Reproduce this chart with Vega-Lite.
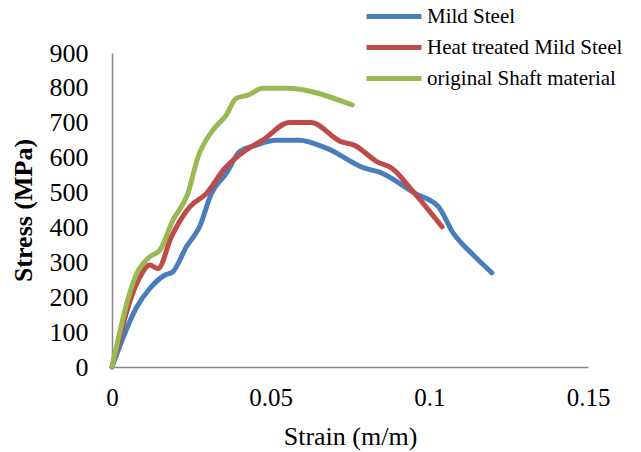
{
  "$schema": "https://vega.github.io/schema/vega-lite/v6.json",
  "width": 476,
  "height": 314,
  "autosize": "none",
  "padding": {"left": 112, "top": 53, "right": 53, "bottom": 85},
  "background": "white",
  "config": {
    "view": {"stroke": null},
    "font": "Liberation Serif"
  },
  "data": {
    "values": [
      {"series": "Mild Steel", "strain": 0, "stress": 0},
      {"series": "Mild Steel", "strain": 0.0078, "stress": 172},
      {"series": "Mild Steel", "strain": 0.0119, "stress": 225},
      {"series": "Mild Steel", "strain": 0.0166, "stress": 263},
      {"series": "Mild Steel", "strain": 0.0192, "stress": 273},
      {"series": "Mild Steel", "strain": 0.0234, "stress": 344},
      {"series": "Mild Steel", "strain": 0.0276, "stress": 402},
      {"series": "Mild Steel", "strain": 0.0313, "stress": 497},
      {"series": "Mild Steel", "strain": 0.036, "stress": 555},
      {"series": "Mild Steel", "strain": 0.0402, "stress": 617},
      {"series": "Mild Steel", "strain": 0.0454, "stress": 636},
      {"series": "Mild Steel", "strain": 0.0517, "stress": 650},
      {"series": "Mild Steel", "strain": 0.059, "stress": 650},
      {"series": "Mild Steel", "strain": 0.0674, "stress": 628},
      {"series": "Mild Steel", "strain": 0.0799, "stress": 569},
      {"series": "Mild Steel", "strain": 0.0841, "stress": 559},
      {"series": "Mild Steel", "strain": 0.0956, "stress": 497},
      {"series": "Mild Steel", "strain": 0.1029, "stress": 459},
      {"series": "Mild Steel", "strain": 0.1076, "stress": 383},
      {"series": "Mild Steel", "strain": 0.1134, "stress": 325},
      {"series": "Mild Steel", "strain": 0.1197, "stress": 270},
      {"series": "Heat treated Mild Steel", "strain": 0, "stress": 0},
      {"series": "Heat treated Mild Steel", "strain": 0.0088, "stress": 258},
      {"series": "Heat treated Mild Steel", "strain": 0.0119, "stress": 292},
      {"series": "Heat treated Mild Steel", "strain": 0.0145, "stress": 282},
      {"series": "Heat treated Mild Steel", "strain": 0.0187, "stress": 373},
      {"series": "Heat treated Mild Steel", "strain": 0.0245, "stress": 459},
      {"series": "Heat treated Mild Steel", "strain": 0.0297, "stress": 497},
      {"series": "Heat treated Mild Steel", "strain": 0.0355, "stress": 569},
      {"series": "Heat treated Mild Steel", "strain": 0.0423, "stress": 622},
      {"series": "Heat treated Mild Steel", "strain": 0.0475, "stress": 650},
      {"series": "Heat treated Mild Steel", "strain": 0.0559, "stress": 701},
      {"series": "Heat treated Mild Steel", "strain": 0.0627, "stress": 701},
      {"series": "Heat treated Mild Steel", "strain": 0.0721, "stress": 646},
      {"series": "Heat treated Mild Steel", "strain": 0.0763, "stress": 636},
      {"series": "Heat treated Mild Steel", "strain": 0.0836, "stress": 588},
      {"series": "Heat treated Mild Steel", "strain": 0.0883, "stress": 569},
      {"series": "Heat treated Mild Steel", "strain": 0.0945, "stress": 507},
      {"series": "Heat treated Mild Steel", "strain": 0.104, "stress": 402},
      {"series": "original Shaft material", "strain": 0, "stress": 0},
      {"series": "original Shaft material", "strain": 0.0078, "stress": 268},
      {"series": "original Shaft material", "strain": 0.0119, "stress": 316},
      {"series": "original Shaft material", "strain": 0.0151, "stress": 335},
      {"series": "original Shaft material", "strain": 0.0192, "stress": 421},
      {"series": "original Shaft material", "strain": 0.0239, "stress": 497},
      {"series": "original Shaft material", "strain": 0.0271, "stress": 602},
      {"series": "original Shaft material", "strain": 0.0318, "stress": 679},
      {"series": "original Shaft material", "strain": 0.036, "stress": 722},
      {"series": "original Shaft material", "strain": 0.0391, "stress": 770},
      {"series": "original Shaft material", "strain": 0.0428, "stress": 779},
      {"series": "original Shaft material", "strain": 0.0475, "stress": 799},
      {"series": "original Shaft material", "strain": 0.0548, "stress": 799},
      {"series": "original Shaft material", "strain": 0.0757, "stress": 751}
    ]
  },
  "mark": {"type": "line", "interpolate": "monotone", "strokeWidth": 5, "strokeCap": "round", "strokeJoin": "round"},
  "encoding": {
    "x": {
      "field": "strain", "type": "quantitative",
      "scale": {"domain": [0, 0.15], "nice": false},
      "axis": {
        "values": [0, 0.05, 0.1, 0.15],
        "labelExpr": "datum.value + ''",
        "grid": false, "ticks": false,
        "domainColor": "#868686", "domainWidth": 1.5,
        "labelFont": "Liberation Serif", "labelFontSize": 25, "labelColor": "black",
        "labelPadding": 18, "labelFlush": false,
        "title": "Strain (m/m)",
        "titleFont": "Liberation Serif", "titleFontSize": 26, "titleFontWeight": "normal", "titleColor": "black",
        "titlePadding": 13
      }
    },
    "y": {
      "field": "stress", "type": "quantitative",
      "scale": {"domain": [0, 900], "nice": false},
      "axis": {
        "values": [0, 100, 200, 300, 400, 500, 600, 700, 800, 900],
        "grid": false, "ticks": false,
        "domainColor": "#868686", "domainWidth": 1.5,
        "labelFont": "Liberation Serif", "labelFontSize": 26, "labelColor": "black",
        "labelPadding": 24,
        "title": "Stress (MPa)",
        "titleFont": "Liberation Serif", "titleFontSize": 26, "titleFontWeight": "bold", "titleColor": "black",
        "titlePadding": 13
      }
    },
    "color": {
      "field": "series", "type": "nominal",
      "scale": {
        "domain": ["Mild Steel", "Heat treated Mild Steel", "original Shaft material"],
        "range": ["#4A7EBB", "#BE4B48", "#98B954"]
      },
      "legend": {
        "title": null,
        "orient": "none",
        "legendX": 271.5,
        "legendY": -47,
        "symbolType": "M-5.5,0H5.5",
        "symbolSize": 100,
        "symbolStrokeWidth": 5,
        "symbolFillColor": "transparent",
        "labelFont": "Liberation Serif",
        "labelFontSize": 21,
        "labelColor": "black",
        "labelOffset": 22.5,
        "rowPadding": 9,
        "labelLimit": 400
      }
    }
  }
}
